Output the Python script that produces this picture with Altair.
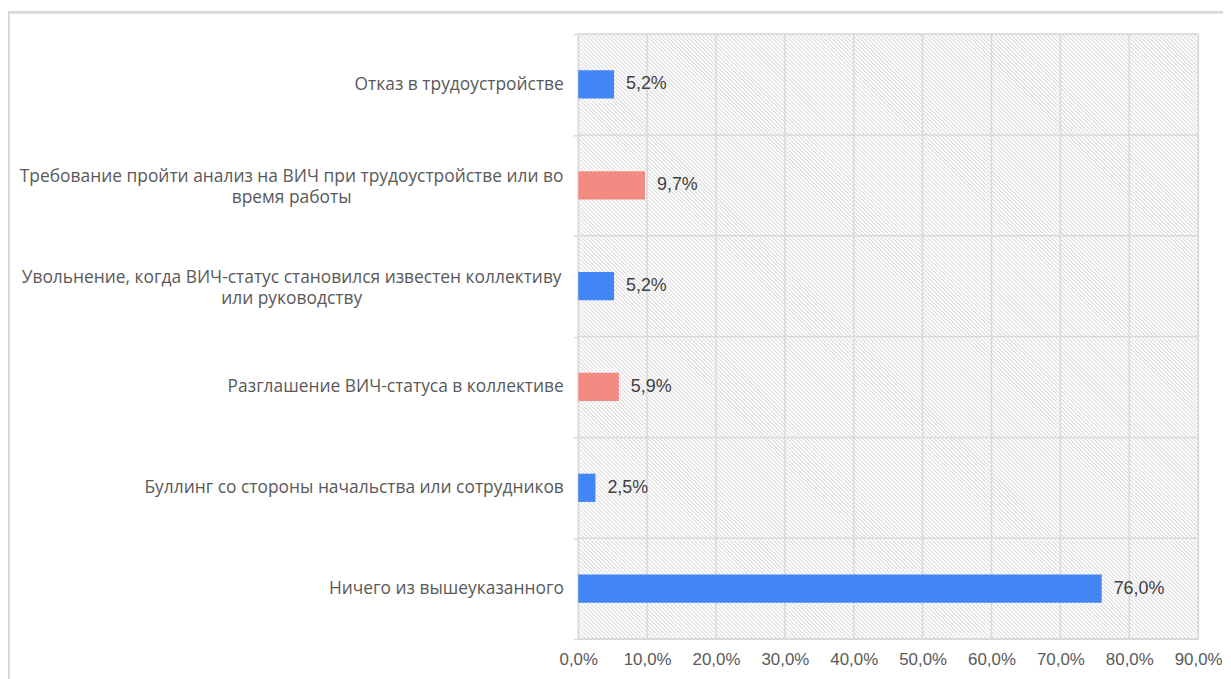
import altair as alt
import pandas as pd

categories = [
    "Отказ в трудоустройстве",
    "Требование пройти анализ на ВИЧ при трудоустройстве или во время работы",
    "Увольнение, когда ВИЧ-статус становился известен коллективу или руководству",
    "Разглашение ВИЧ-статуса в коллективе",
    "Буллинг со стороны начальства или сотрудников",
    "Ничего из вышеуказанного",
]
values = [5.2, 9.7, 5.2, 5.9, 2.5, 76.0]
bar_colors = ["#4285F4", "#F28B82", "#4285F4", "#F28B82", "#4285F4", "#4285F4"]
# how long category labels are wrapped on the axis
wrapped = {
    categories[1]: ["Требование пройти анализ на ВИЧ при трудоустройстве или во", "время работы"],
    categories[2]: ["Увольнение, когда ВИЧ-статус становился известен коллективу", "или руководству"],
}
x_ticks = [0, 10, 20, 30, 40, 50, 60, 70, 80, 90]
x_max = 90

df = pd.DataFrame({"cat": categories, "val": values, "color": bar_colors})
ticks_df = pd.DataFrame({"t": x_ticks})

W, H = 624, 609
PAD_L, PAD_T = 574, 24
GRID = "#d9d9d9"


def js(s):
    return "'" + s.replace("'", "\\'") + "'"


expr = "datum.label"
for k, lines in wrapped.items():
    expr = f"datum.label == {js(k)} ? [{', '.join(js(l) for l in lines)}] : ({expr})"
test = " || ".join(f"datum.value == {js(k)}" for k in wrapped)

# background hatch texture (decoration): diagonal lines 4px apart, in scale units
step_px = 4
rows = []
c = -H
while c <= W:
    rows.append({
        "hx": c * x_max / W,
        "hx2": (c + H) * x_max / W,
        "hy": 0.0,
        "hy2": 1.0,
    })
    c += step_px
hatch_df = pd.DataFrame(rows)

xscale = alt.Scale(domain=[0, x_max], nice=False)
xaxis = alt.Axis(
    values=x_ticks,
    grid=False,
    ticks=False,
    domain=False,
    labelFlush=False,
    labelFont="Liberation Sans",
    labelFontSize=17,
    labelColor="#595959",
    labelPadding=13,
    labelExpr="replace(format(datum.value, '.1f'), '.', ',') + '%'",
    title=None,
)

hatch = alt.Chart(hatch_df).mark_rule(color="#dcdcdc", strokeWidth=1.1, clip=True).encode(
    x=alt.X("hx:Q", scale=xscale, axis=xaxis),
    x2="hx2:Q",
    y=alt.Y("hy:Q", scale=alt.Scale(domain=[0, 1], reverse=True), axis=None),
    y2="hy2:Q",
)

base = alt.Chart(df)

yenc = alt.Y(
    "cat:N",
    sort=categories,
    scale=alt.Scale(paddingInner=0, paddingOuter=0),
    title=None,
    axis=alt.Axis(
        tickBand="extent",
        grid=False,
        domain=False,
        tickColor=GRID,
        tickWidth=1.5,
        tickSize=5,
        labelFont="Open Sans",
        labelFontSize=17.5,
        labelColor="#595959",
        labelLimit=700,
        labelExpr=expr,
        labelAlign={"condition": {"test": test, "value": "center"}, "value": "right"},
        labelPadding={"condition": {"test": test, "value": 284}, "value": 10},
        labelOffset={"condition": {"test": test, "value": -9}, "value": 0},
        labelLineHeight=21,
    ),
)

xenc = alt.X("val:Q", scale=xscale, title=None, axis=xaxis)

xgrid = alt.Chart(ticks_df).mark_rule(color=GRID, strokeWidth=1.5).encode(
    x=alt.X("t:Q", scale=xscale, axis=xaxis)
)

ygrid = base.mark_rule(color=GRID, strokeWidth=1.5).encode(
    y=alt.Y("cat:N", sort=categories, bandPosition=0)
)
ybottom = base.mark_rule(color=GRID, strokeWidth=1.5).encode(
    x=alt.value(0), x2=alt.value(W), y=alt.value(H)
)

bars = base.mark_bar(height={"band": 0.28}).encode(
    x=xenc,
    y=yenc,
    color=alt.Color("color:N", scale=None),
)

labels = base.transform_calculate(
    lbl="replace(format(datum.val, '.1f'), '.', ',') + '%'"
).mark_text(
    align="left", baseline="middle", dx=12, font="Liberation Sans", fontSize=18, color="#404040"
).encode(
    x="val:Q",
    y=alt.Y("cat:N", sort=categories),
    text="lbl:N",
)

frame_top = base.mark_rule(color=GRID, strokeWidth=2).encode(
    x=alt.value(-PAD_L), x2=alt.value(700), y=alt.value(-22)
)
frame_left = base.mark_rule(color=GRID, strokeWidth=2).encode(
    x=alt.value(-PAD_L + 1), y=alt.value(-22), y2=alt.value(660)
)

main = alt.layer(xgrid, ygrid, ybottom, bars, labels, frame_top, frame_left)

chart = (
    alt.layer(hatch, main)
    .resolve_scale(y="independent")
    .properties(
        width=W,
        height=H,
        autosize=alt.AutoSizeParams(type="none"),
        padding={"left": PAD_L, "top": PAD_T, "right": 25, "bottom": 40},
    )
    .configure_view(stroke=None)
    .configure(background="white")
)

chart.save("out.html", embed_options={"renderer": "svg", "actions": False})
